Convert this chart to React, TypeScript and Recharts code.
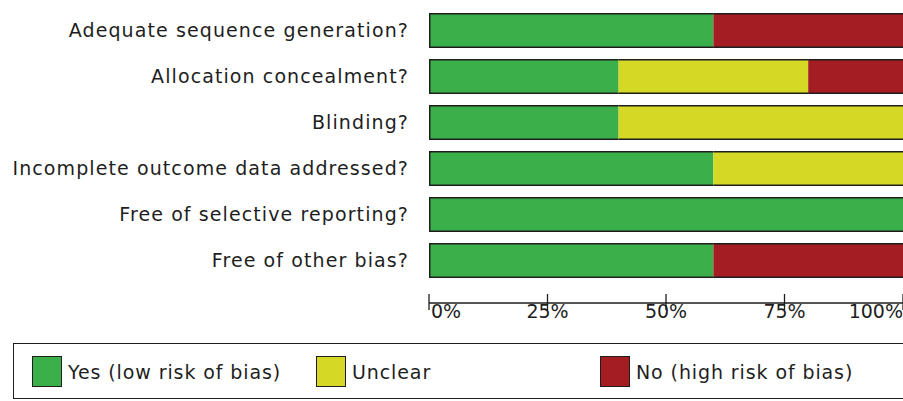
import { BarChart, Bar, XAxis, YAxis } from 'recharts';

const categories = [
  'Adequate sequence generation?',
  'Allocation concealment?',
  'Blinding?',
  'Incomplete outcome data addressed?',
  'Free of selective reporting?',
  'Free of other bias?',
];

// percentage of studies per judgement
const yesValues = [60, 40, 40, 60, 100, 60];
const unclearValues = [0, 40, 60, 40, 0, 0];
const noValues = [40, 20, 0, 0, 0, 40];

const xTicks = [0, 25, 50, 75, 100];

const SERIES = [
  { key: 'yes', name: 'Yes (low risk of bias)', color: '#3bb04a' },
  { key: 'unclear', name: 'Unclear', color: '#d5d926' },
  { key: 'no', name: 'No (high risk of bias)', color: '#a31d22' },
];

const FONT = '"DejaVu Sans", Verdana, sans-serif';
const INK = '#1e1e1e';

const chartData = categories.map((name, i) => ({
  name,
  yes: yesValues[i],
  unclear: unclearValues[i],
  no: noValues[i],
}));

// segment with only top/bottom outline, so the whole bar reads as one box
function segmentShape(withLeftEdge: boolean) {
  return (props: any) => {
    const { x, y, width, height, fill } = props;
    if (!width || width <= 0) return <g />;
    return (
      <g>
        <rect x={x} y={y} width={width} height={height} fill={fill} />
        <line x1={x} x2={x + width} y1={y + 0.75} y2={y + 0.75} stroke={INK} strokeWidth={1.5} />
        <line x1={x} x2={x + width} y1={y + height - 0.75} y2={y + height - 0.75} stroke={INK} strokeWidth={1.5} />
        {withLeftEdge && (
          <line x1={x + 0.75} x2={x + 0.75} y1={y} y2={y + height} stroke={INK} strokeWidth={1.5} />
        )}
      </g>
    );
  };
}

function XTick(props: any) {
  const { x, y, payload, index } = props;
  const anchor = index === 0 ? 'start' : index === xTicks.length - 1 ? 'end' : 'middle';
  return (
    <g>
      <line x1={x} x2={x} y1={y - 9} y2={y + 7} stroke={INK} strokeWidth={1.3} />
      <text
        x={index === 0 ? x + 2 : x}
        y={y + 15}
        textAnchor={anchor}
        fill={INK}
        fontSize={19}
        fontFamily={FONT}
      >
        {payload.value}%
      </text>
    </g>
  );
}

function YTick(props: any) {
  const { x, y, payload } = props;
  return (
    <text
      x={x}
      y={y}
      textAnchor="end"
      dominantBaseline="central"
      fill={INK}
      fontSize={19}
      fontFamily={FONT}
      letterSpacing={1.1}
    >
      {payload.value}
    </text>
  );
}

export default function App() {
  return (
    <div style={{ position: 'relative', width: 903, height: 401, background: '#fff', overflow: 'hidden' }}>
      <style>{'body{margin:0}'}</style>
      <BarChart
        width={903}
        height={401}
        data={chartData}
        layout="vertical"
        margin={{ top: 7, right: 0, left: 0, bottom: 68 }}
        barSize={35}
      >
        <XAxis
          type="number"
          domain={[0, 100]}
          ticks={xTicks}
          interval={0}
          axisLine={{ stroke: INK, strokeWidth: 1.5 }}
          tickLine={false}
          tickSize={0}
          tickMargin={0}
          height={30}
          tick={<XTick />}
        />
        <YAxis
          type="category"
          dataKey="name"
          width={429}
          axisLine={false}
          tickLine={false}
          tickSize={0}
          tickMargin={20}
          padding={{ top: 0, bottom: 20 }}
          interval={0}
          tick={<YTick />}
        />
        {SERIES.map((s, i) => (
          <Bar
            key={s.key}
            dataKey={s.key}
            name={s.name}
            stackId="a"
            fill={s.color}
            isAnimationActive={false}
            shape={segmentShape(i === 0)}
          />
        ))}
      </BarChart>
      <div
        style={{
          position: 'absolute',
          left: 13,
          top: 343,
          width: 890,
          height: 54,
          border: `1.5px solid ${INK}`,
          borderRight: 'none',
          fontFamily: FONT,
          fontSize: 19,
          letterSpacing: 0.9,
          color: INK,
        }}
      >
        {SERIES.map((s, i) => (
          <div
            key={s.key}
            style={{
              position: 'absolute',
              left: [18, 302, 586][i],
              top: 12,
              display: 'flex',
              alignItems: 'center',
              whiteSpace: 'nowrap',
            }}
          >
            <span
              style={{
                display: 'inline-block',
                width: 28,
                height: 29,
                background: s.color,
                border: `1.5px solid ${INK}`,
                marginRight: 6,
              }}
            />
            {s.name}
          </div>
        ))}
      </div>
    </div>
  );
}
